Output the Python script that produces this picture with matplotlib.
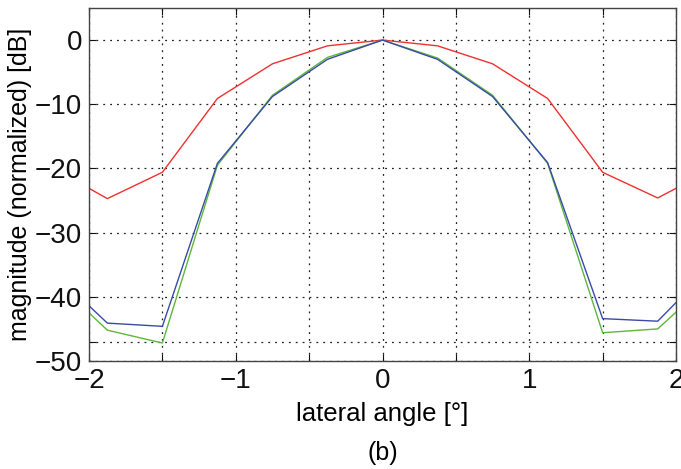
import matplotlib.pyplot as plt

plt.rcParams['font.family'] = ['Liberation Sans', 'DejaVu Sans']

# lateral angle samples [deg] (edges are where the lines meet the frame)
angle = [-2.0, -1.875, -1.5, -1.125, -0.75, -0.375, 0.0,
         0.375, 0.75, 1.125, 1.5, 1.875, 2.0]

# normalized magnitudes [dB]
mag_red = [-23.1, -24.7, -20.6, -9.1, -3.7, -0.9, 0.0,
           -0.9, -3.7, -9.1, -20.6, -24.6, -23.1]
mag_green = [-42.5, -45.2, -47.2, -19.5, -8.6, -2.7, 0.0,
             -2.8, -8.6, -19.2, -45.6, -45.0, -42.4]
mag_blue = [-41.4, -44.1, -44.6, -19.2, -8.8, -3.0, 0.0,
            -3.0, -8.8, -19.1, -43.4, -43.8, -40.9]

xticks = [-2, -1.5, -1, -0.5, 0, 0.5, 1, 1.5, 2]
xticklabels = ['\u22122', '', '\u22121', '', '0', '', '1', '', '2']
yticks = [-50, -47, -40, -30, -20, -10, 0]
yticklabels = ['\u221250', '', '\u221240', '\u221230', '\u221220', '\u221210', '0']

fig = plt.figure(figsize=(6.81, 4.69), dpi=100)
ax = fig.add_axes([0.1307, 0.2303, 0.862, 0.7527])

ax.plot(angle, mag_red, color='#f03030', lw=1.0)
ax.plot(angle, mag_green, color='#5cb83a', lw=1.0)
ax.plot(angle, mag_blue, color='#3a4aa8', lw=1.0)

ax.set_xlim(-2, 2)
ax.set_ylim(-50, 5)
ax.set_xticks(xticks)
ax.set_xticklabels(xticklabels)
ax.set_yticks(yticks)
ax.set_yticklabels(yticklabels)
ax.tick_params(direction='in', length=5, width=0.8, top=True, right=True,
               labelsize=20, colors='#111111', pad=5)
ax.grid(True, color='#222222', linestyle=(0, (1.5, 4)), linewidth=0.9)
for s in ax.spines.values():
    s.set_color('#444444')
    s.set_linewidth(1.0)

ax.set_xlabel('lateral angle [°]', fontsize=18.5, labelpad=6)
ax.set_ylabel('magnitude (normalized) [dB]', fontsize=18, labelpad=2)
fig.text(0.5625, 0.035, '(b)', ha='center', va='center', fontsize=18)

fig.savefig('out.png', dpi=100)
